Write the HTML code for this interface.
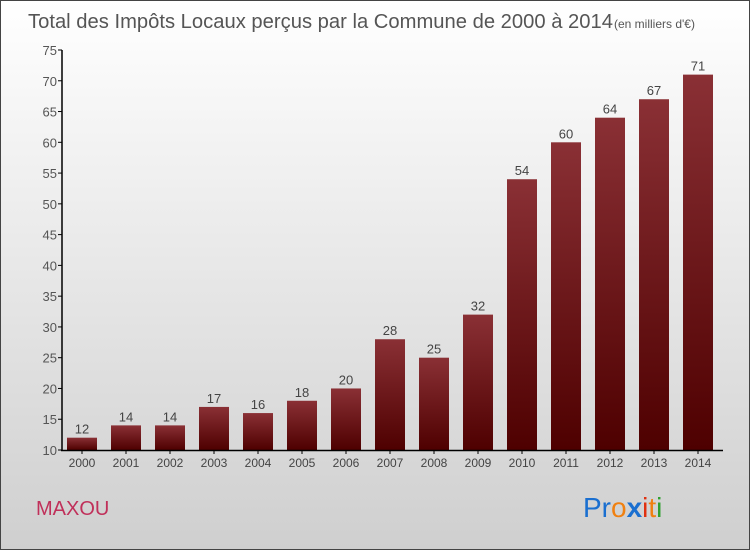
<!DOCTYPE html>
<html><head><meta charset="utf-8"><style>
body{margin:0;width:750px;height:550px;overflow:hidden;font-family:"Liberation Sans",sans-serif}
#wrap{position:relative;width:748px;height:548px;border:1px solid #444;background:linear-gradient(#ffffff,#cfcfcf)}
</style></head><body>
<div id="wrap">
<svg id="svg" width="748" height="548" xmlns="http://www.w3.org/2000/svg">
<defs><linearGradient id="bg" x1="0" y1="0" x2="0" y2="1"><stop offset="0" stop-color="#8a3035"/><stop offset="1" stop-color="#4e0000"/></linearGradient></defs>
<text x="27" y="27" font-size="20" fill="#555" textLength="585" lengthAdjust="spacingAndGlyphs">Total des Impôts Locaux perçus par la Commune de 2000 à 2014</text>
<text x="613" y="27" font-size="12" fill="#555">(en milliers d'€)</text>
<g id="plot"></g>
<text x="35" y="514" font-size="20" fill="#c0305a">MAXOU</text>
<text x="582" y="516" font-size="28"><tspan fill="#1a6fd0">Pr</tspan><tspan fill="#f08010">o</tspan><tspan fill="#1a6fd0" font-weight="bold">x</tspan><tspan fill="#e03010">i</tspan><tspan fill="#f08010">t</tspan><tspan fill="#30a030">i</tspan></text>
</svg></div>
<script>
const years=["2000","2001","2002","2003","2004","2005","2006","2007","2008","2009","2010","2011","2012","2013","2014"];
const values=[12,14,14,17,16,18,20,28,25,32,54,60,64,67,71];
const ticks=[10,15,20,25,30,35,40,45,50,55,60,65,70,75];
const NS="http://www.w3.org/2000/svg";
const g=document.getElementById('plot');
const y=v=>449-(v-10)*(400/65);
const x=i=>81+i*44;
function mk(t,a){const e=document.createElementNS(NS,t);for(const k in a)e.setAttribute(k,a[k]);g.appendChild(e);return e;}
ticks.forEach(t=>{
 const l=mk('line',{x1:57,x2:61,y1:y(t),y2:y(t),stroke:'#000'});
 
 
 const tx=mk('text',{x:56,y:y(t)+5,'text-anchor':'end','font-size':13,fill:'#555'});tx.textContent=t;
 
 
});
values.forEach((v,i)=>{
 const r=mk('rect',{x:x(i)-15,y:y(v),width:30,height:y(10)-y(v),fill:'url(#bg)'});
 
 
 const lt=mk('text',{x:x(i),y:y(v)-4,'text-anchor':'middle','font-size':13,fill:'#444'});lt.textContent=v;
 
 
 const tk=mk('line',{x1:x(i),x2:x(i),y1:449,y2:453,stroke:'#000'});
 
 
 const xl=mk('text',{x:x(i),y:466,'text-anchor':'middle','font-size':12,fill:'#444'});xl.textContent=years[i];
 
 
});
const ya=mk('line',{x1:61,x2:61,y1:y(75),y2:450,stroke:'#000','stroke-width':1.5});


const xa=mk('line',{x1:60,x2:722,y1:449.5,y2:449.5,stroke:'#000','stroke-width':1.5});


</script>
</body></html>
